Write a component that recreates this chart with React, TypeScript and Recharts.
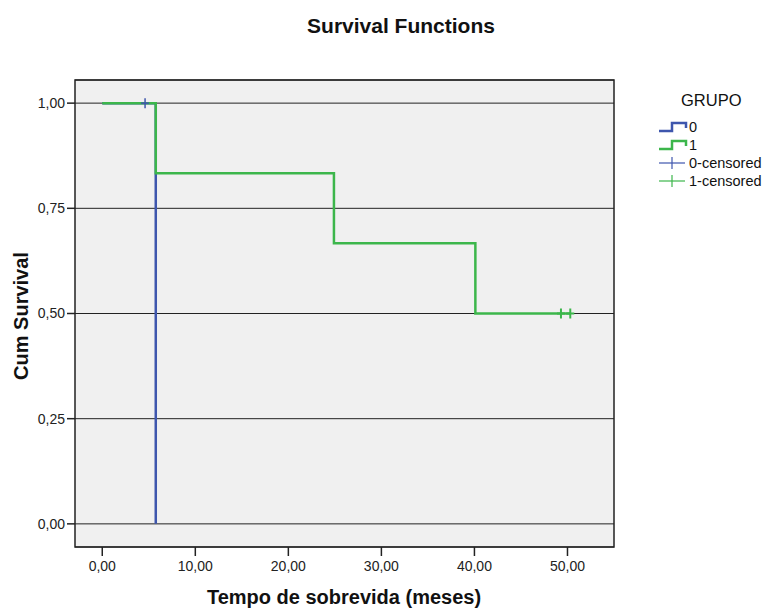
import React from "react";
import {
  ComposedChart,
  Line,
  Scatter,
  XAxis,
  YAxis,
  CartesianGrid,
  ReferenceArea,
} from "recharts";

// Kaplan-Meier steps
const grupo0 = [
  { t: 0, s: 1 },
  { t: 5.75, s: 0 },
];
const grupo1 = [
  { t: 0, s: 1 },
  { t: 5.75, s: 0.8333 },
  { t: 24.9, s: 0.6667 },
  { t: 40.1, s: 0.5 },
  { t: 50.3, s: 0.5 },
];
const censored0 = [{ t: 4.6, s: 1 }];
const censored1 = [
  { t: 49.3, s: 0.5 },
  { t: 50.3, s: 0.5 },
];

const xTicks = [0, 10, 20, 30, 40, 50];
const yTicks = [0, 0.25, 0.5, 0.75, 1];
const xDomain = [-2.93, 55];
const yDomain = [-0.055, 1.055];

const AZUL = "#3e56ad";
const VERDE = "#3cb64b";
const FONT = "'Liberation Sans', Arial, sans-serif";

const fmt = (v: number) => v.toFixed(2).replace(".", ",");

const cruz = (color: string, w: number) => (props: any) => {
  const { cx, cy } = props;
  return (
    <g>
      <line x1={cx - 4} x2={cx + 4} y1={cy} y2={cy} stroke={color} strokeWidth={w} />
      <line x1={cx} x2={cx} y1={cy - 5} y2={cy + 5} stroke={color} strokeWidth={w} />
    </g>
  );
};

function StepIcon({ color }: { color: string }) {
  return (
    <svg width={30} height={14} style={{ display: "block" }}>
      <polyline
        points="1,11 14,11 14,3 28,3 28,8"
        fill="none"
        stroke={color}
        strokeWidth={2.5}
      />
    </svg>
  );
}

function CrossIcon({ color }: { color: string }) {
  return (
    <svg width={30} height={14} style={{ display: "block" }}>
      <line x1={1} x2={27} y1={7} y2={7} stroke={color} strokeWidth={1.2} />
      <line x1={14} x2={14} y1={1} y2={13} stroke={color} strokeWidth={1.2} />
    </svg>
  );
}

const legendItems = [
  { label: "0", icon: <StepIcon color={AZUL} /> },
  { label: "1", icon: <StepIcon color={VERDE} /> },
  { label: "0-censored", icon: <CrossIcon color={AZUL} /> },
  { label: "1-censored", icon: <CrossIcon color={VERDE} /> },
];

export default function App() {
  return (
    <div
      style={{
        position: "absolute",
        left: 0,
        top: 0,
        width: 766,
        height: 610,
        background: "#fff",
        fontFamily: FONT,
        color: "#111",
      }}
    >
      <div
        style={{
          position: "absolute",
          top: 14,
          left: 0,
          width: 802,
          textAlign: "center",
          fontSize: 21,
          fontWeight: "bold",
        }}
      >
        Survival Functions
      </div>

      <ComposedChart
        width={766}
        height={610}
        margin={{ top: 80, right: 152, left: 0, bottom: 0 }}
      >
        <CartesianGrid
          vertical={false}
          fill="#f0f0f0"
          fillOpacity={1}
          stroke="#222"
          strokeOpacity={1}
        />
        <XAxis
          type="number"
          dataKey="t"
          domain={xDomain}
          ticks={xTicks}
          tickFormatter={fmt}
          height={63}
          tickSize={9}
          tickMargin={5}
          axisLine={false}
          tickLine={{ stroke: "#222", strokeWidth: 1.5 }}
          tick={{ fill: "#222", fontSize: 14, fontFamily: FONT }}
          allowDataOverflow
        />
        <YAxis
          type="number"
          dataKey="s"
          domain={yDomain}
          ticks={yTicks}
          tickFormatter={fmt}
          width={75}
          tickSize={8}
          tickMargin={2}
          axisLine={false}
          tickLine={{ stroke: "#222", strokeWidth: 1.5 }}
          tick={{ fill: "#222", fontSize: 14, fontFamily: FONT }}
          allowDataOverflow
        />
        <ReferenceArea
          x1={xDomain[0]}
          x2={xDomain[1]}
          y1={yDomain[0]}
          y2={yDomain[1]}
          fill="none"
          fillOpacity={0}
          stroke="#222"
          strokeWidth={1.5}
          strokeOpacity={1}
        />
        <Line
          data={grupo0}
          dataKey="s"
          type="stepAfter"
          stroke={AZUL}
          strokeWidth={2.5}
          dot={false}
          activeDot={false}
          isAnimationActive={false}
        />
        <Line
          data={grupo1}
          dataKey="s"
          type="stepAfter"
          stroke={VERDE}
          strokeWidth={2.5}
          dot={false}
          activeDot={false}
          isAnimationActive={false}
        />
        <Scatter
          data={censored0}
          dataKey="s"
          shape={cruz(AZUL, 1.5)}
          isAnimationActive={false}
        />
        <Scatter
          data={censored1}
          dataKey="s"
          shape={cruz(VERDE, 2)}
          isAnimationActive={false}
        />
      </ComposedChart>

      <div
        style={{
          position: "absolute",
          top: 586,
          left: 74,
          width: 540,
          textAlign: "center",
          fontSize: 20,
          fontWeight: "bold",
        }}
      >
        Tempo de sobrevida (meses)
      </div>
      <div
        style={{
          position: "absolute",
          left: 21,
          top: 316,
          transform: "translate(-50%, -50%) rotate(-90deg)",
          whiteSpace: "nowrap",
          fontSize: 20,
          fontWeight: "bold",
        }}
      >
        Cum Survival
      </div>

      <div style={{ position: "absolute", left: 658, top: 91 }}>
        <div style={{ fontSize: 16.5, marginLeft: 23, marginBottom: 8 }}>GRUPO</div>
        {legendItems.map((it) => (
          <div
            key={it.label}
            style={{ display: "flex", alignItems: "center", height: 18, fontSize: 14.5 }}
          >
            {it.icon}
            <span style={{ marginLeft: 1 }}>{it.label}</span>
          </div>
        ))}
      </div>
    </div>
  );
}
